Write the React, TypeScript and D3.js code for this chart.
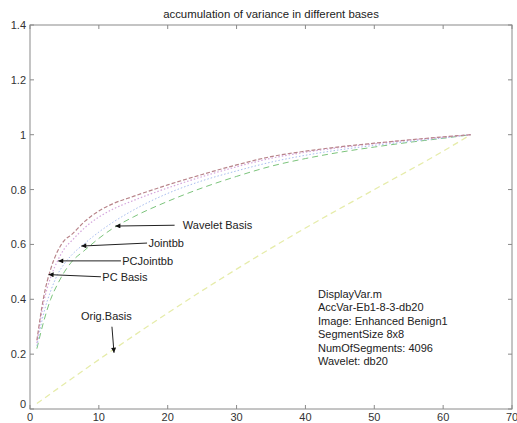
import React from 'react';
import * as d3 from 'd3';

const W = 517;
const H = 423;
const margin = { top: 25, right: 5, bottom: 14, left: 30 };

const xs = [1, 2, 3, 4, 5, 6, 8, 10, 12, 15, 20, 25, 30, 35, 40, 45, 50, 55, 60, 64];
const pcBasis = [0.25, 0.41, 0.51, 0.575, 0.615, 0.635, 0.685, 0.722, 0.748, 0.775, 0.817, 0.855, 0.89, 0.92, 0.94, 0.956, 0.969, 0.981, 0.992, 1];
const pcJointbb = [0.24, 0.39, 0.48, 0.54, 0.585, 0.612, 0.662, 0.7, 0.728, 0.76, 0.806, 0.847, 0.883, 0.914, 0.936, 0.953, 0.967, 0.98, 0.991, 1];
const jointbb = [0.23, 0.35, 0.43, 0.49, 0.53, 0.56, 0.605, 0.645, 0.68, 0.725, 0.786, 0.832, 0.868, 0.9, 0.925, 0.945, 0.961, 0.975, 0.988, 1];
const waveletBasis = [0.22, 0.32, 0.4, 0.455, 0.5, 0.535, 0.58, 0.622, 0.658, 0.7, 0.757, 0.806, 0.848, 0.885, 0.913, 0.936, 0.955, 0.972, 0.987, 1];
const origX = [1, 10, 20, 30, 40, 50, 60, 64];
const origBasis = [0.02, 0.18, 0.35, 0.51, 0.66, 0.8, 0.94, 1];

const xTicks = [0, 10, 20, 30, 40, 50, 60, 70];
const yTicks = [0, 0.2, 0.4, 0.6, 0.8, 1, 1.2, 1.4];

const title = 'accumulation of variance in different bases';
const infoLines = [
  'DisplayVar.m',
  'AccVar-Eb1-8-3-db20',
  'Image: Enhanced Benign1',
  'SegmentSize 8x8',
  'NumOfSegments: 4096',
  'Wavelet: db20',
];

// annotation: label, label anchor in data coords, arrow tip in data coords
const notes = [
  { label: 'Wavelet Basis', lx: 22.2, ly: 0.67, tx: 12.4, ty: 0.667, ax: 21.0 },
  { label: 'Jointbb', lx: 17.2, ly: 0.605, tx: 7.45, ty: 0.594, ax: 17.0 },
  { label: 'PCJointbb', lx: 13.4, ly: 0.54, tx: 4.1, ty: 0.54, ax: 13.2 },
  { label: 'PC Basis', lx: 10.5, ly: 0.482, tx: 2.7, ty: 0.49, ax: 10.3 },
];

const font = 'Liberation Sans, Arial, sans-serif';

export default function App() {
  const x = d3.scaleLinear().domain([0, 70]).range([margin.left, W - margin.right]);
  const y = d3.scaleLinear().domain([0, 1.4]).range([H - margin.bottom, margin.top]);

  const line = d3
    .line<[number, number]>()
    .x((d) => x(d[0]))
    .y((d) => y(d[1]))
    .curve(d3.curveMonotoneX);

  const pts = (vals: number[], xv: number[] = xs) =>
    vals.map((v, i) => [xv[i], v] as [number, number]);

  const series = [
    { vals: waveletBasis, stroke: '#7cc47c', dash: '6,4', w: 1 },
    { vals: jointbb, stroke: '#a6bcef', dash: '1.5,2', w: 1 },
    { vals: pcJointbb, stroke: '#d4a4dc', dash: '1.5,2', w: 1.2 },
    { vals: pcBasis, stroke: '#b8848a', dash: '4,2', w: 1.2 },
  ];

  const x0 = x(0);
  const x1 = x(70);
  const y0 = y(0);
  const y1 = y(1.4);

  return (
    <svg
      width={W}
      height={H}
      style={{ position: 'absolute', left: 0, top: 0, background: '#fff' }}
      fontFamily={font}
    >
      <defs>
        <marker id="arr" viewBox="0 0 10 10" refX="10" refY="5" markerWidth="7" markerHeight="5" orient="auto">
          <path d="M0,0 L10,5 L0,10 z" fill="#111" />
        </marker>
      </defs>

      <text x={(x0 + x1) / 2} y={18} textAnchor="middle" fontSize={11.4} fill="#222">
        {title}
      </text>

      {/* curves */}
      <path
        d={line(pts(origBasis, origX)) || ''}
        fill="none"
        stroke="#e6ecaa"
        strokeWidth={1.3}
        strokeDasharray="6,4"
      />
      {series.map((s, i) => (
        <path
          key={i}
          d={line(pts(s.vals)) || ''}
          fill="none"
          stroke={s.stroke}
          strokeWidth={s.w}
          strokeDasharray={s.dash}
        />
      ))}

      {/* axes box */}
      <rect x={x0} y={y1} width={x1 - x0} height={y0 - y1} fill="none" stroke="#8a8a8a" strokeWidth={1} />
      {xTicks.map((t) => (
        <g key={'x' + t}>
          <line x1={x(t)} x2={x(t)} y1={y0} y2={y0 - 4} stroke="#8a8a8a" />
          <line x1={x(t)} x2={x(t)} y1={y1} y2={y1 + 4} stroke="#8a8a8a" />
          <text x={x(t)} y={y0 + 12} textAnchor="middle" fontSize={11} fill="#333">
            {t}
          </text>
        </g>
      ))}
      {yTicks.map((t) => (
        <g key={'y' + t}>
          <line x1={x0} x2={x0 + 4} y1={y(t)} y2={y(t)} stroke="#8a8a8a" />
          <line x1={x1} x2={x1 - 4} y1={y(t)} y2={y(t)} stroke="#8a8a8a" />
          <text x={x0 - 4} y={y(t) + (t === 0 ? -1 : 4)} textAnchor="end" fontSize={11} fill="#333">
            {t}
          </text>
        </g>
      ))}

      {/* annotations */}
      {notes.map((n) => (
        <g key={n.label}>
          <line
            x1={x(n.ax)}
            y1={y(n.ly)}
            x2={x(n.tx)}
            y2={y(n.ty)}
            stroke="#222"
            strokeWidth={1}
            markerEnd="url(#arr)"
          />
          <text x={x(n.lx)} y={y(n.ly) + 4} fontSize={11} fill="#222">
            {n.label}
          </text>
        </g>
      ))}
      <text x={x(7.4)} y={y(0.339) + 4} fontSize={11} fill="#222">
        Orig.Basis
      </text>
      <line
        x1={x(11.9)}
        y1={y(0.3)}
        x2={x(12.2)}
        y2={y(0.205)}
        stroke="#222"
        markerEnd="url(#arr)"
      />

      {infoLines.map((l, i) => (
        <text key={l} x={318} y={298 + i * 13.4} fontSize={11} fill="#222">
          {l}
        </text>
      ))}
    </svg>
  );
}
